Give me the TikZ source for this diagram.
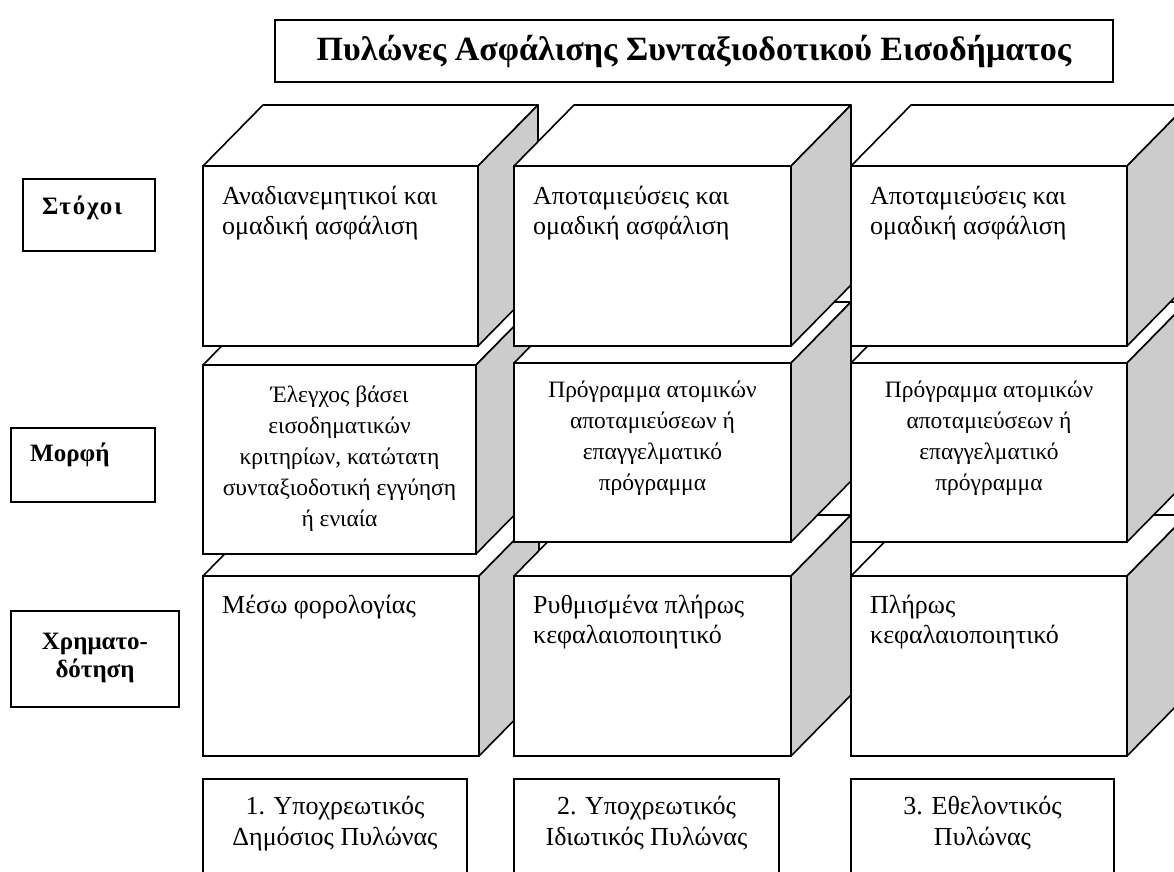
\documentclass[tikz,border=0pt]{standalone}
\usepackage{fontspec}
\setmainfont{Liberation Serif}
\usetikzlibrary{positioning}
\tikzset{
  face/.style = {draw, line width=1.6pt, fill=white, inner sep=0pt, outer sep=0pt, anchor=north west},
  lid/.style = {draw, line width=1.6pt, fill=white, line join=round},
  flank/.style = {draw, line width=1.6pt, fill=black!20, line join=round},
  frame/.style = {draw, line width=1.3pt, inner sep=0pt, outer sep=0pt, anchor=north west},
  lefttxt/.style = {anchor=north west, align=left, inner sep=0pt, font=\fontsize{26}{30}\selectfont},
  midtxt/.style = {anchor=north, align=center, inner sep=0pt, font=\fontsize{23.5}{31}\selectfont},
  tagtxt/.style = {inner sep=0pt, align=center, font=\fontsize{25}{28}\selectfont\bfseries},
}
% one pillar block: name, x, y, width, height of its front face
\newcommand{\pylon}[5]{%
  \draw[lid] (#2,#3) -- ++(60,-61) -- ++(#4,0) -- ++(-60,61) -- cycle;
  \draw[flank] (#2+#4,#3) -- ++(60,-61) -- ++(0,#5) -- ++(-60,61) -- cycle;
  \node (#1) [face, minimum width=#4, minimum height=#5] at (#2,#3) {};
}
\begin{document}
\begin{tikzpicture}[x=1pt, y=-1pt]
\useasboundingbox (0,0) rectangle (1174,871);
\clip (0,0) rectangle (1174,871);
% title
\node (title) [frame, minimum width=838, minimum height=62] at (275,20) {};
\node (titletxt) [font=\fontsize{34}{38}\selectfont\bfseries] at (title.center) {Πυλώνες Ασφάλισης Συνταξιοδοτικού Εισοδήματος};
% row labels
\node (goals) [frame, minimum width=132, minimum height=72] at (23,179) {};
\node (goalstxt) [tagtxt, anchor=north west] at ([shift={(19,17)}]goals.north west) {\addfontfeature{LetterSpace=8}Στόχοι};
\node (form) [frame, minimum width=144, minimum height=74] at (11,428) {};
\node (formtxt) [tagtxt, anchor=north west] at ([shift={(19,15)}]form.north west) {Μορφή};
\node (fund) [frame, minimum width=168, minimum height=96] at (11,611) {};
\node (fundtxt) [tagtxt, anchor=north] at ([shift={(0,22)}]fund.north) {Χρηματο-\\δότηση};
% blocks, back rows first
\pylon{f1}{203}{576}{276}{180}
\pylon{f2}{514}{576}{277}{180}
\pylon{f3}{851}{576}{276}{180}
\pylon{m1}{203}{365}{273}{189}
\pylon{m2}{514}{363}{277}{179}
\pylon{m3}{851}{363}{276}{179}
\pylon{g1}{203}{166}{275}{180}
\pylon{g2}{514}{166}{277}{180}
\pylon{g3}{851}{166}{276}{180}
% block texts
\node (tg1) [lefttxt] at ([shift={(19,20)}]g1.north west) {Αναδιανεμητικοί και\\ομαδική ασφάλιση};
\node (tg2) [lefttxt] at ([shift={(19,20)}]g2.north west) {Αποταμιεύσεις και\\ομαδική ασφάλιση};
\node (tg3) [lefttxt] at ([shift={(19,20)}]g3.north west) {Αποταμιεύσεις και\\ομαδική ασφάλιση};
\node (tm1) [midtxt] at ([shift={(0,21)}]m1.north) {Έλεγχος βάσει\\εισοδηματικών\\κριτηρίων, κατώτατη\\συνταξιοδοτική εγγύηση\\ή ενιαία};
\node (tm2) [midtxt] at ([shift={(0,18)}]m2.north) {Πρόγραμμα ατομικών\\αποταμιεύσεων ή\\επαγγελματικό\\πρόγραμμα};
\node (tm3) [midtxt] at ([shift={(0,18)}]m3.north) {Πρόγραμμα ατομικών\\αποταμιεύσεων ή\\επαγγελματικό\\πρόγραμμα};
\node (tf1) [lefttxt] at ([shift={(19,19)}]f1.north west) {Μέσω φορολογίας};
\node (tf2) [lefttxt] at ([shift={(19,19)}]f2.north west) {Ρυθμισμένα πλήρως\\κεφαλαιοποιητικό};
\node (tf3) [lefttxt] at ([shift={(19,19)}]f3.north west) {Πλήρως\\κεφαλαιοποιητικό};
% pillars
\node (p1) [frame, minimum width=264, minimum height=120] at (203,779) {};
\node (p2) [frame, minimum width=265, minimum height=120] at (514,779) {};
\node (p3) [frame, minimum width=263, minimum height=120] at (851,779) {};
\node (tp1) [midtxt, font=\fontsize{26}{31}\selectfont] at ([shift={(0,17)}]p1.north) {1. Υποχρεωτικός\\Δημόσιος Πυλώνας};
\node (tp2) [midtxt, font=\fontsize{26}{31}\selectfont] at ([shift={(0,17)}]p2.north) {2. Υποχρεωτικός\\Ιδιωτικός Πυλώνας};
\node (tp3) [midtxt, font=\fontsize{26}{31}\selectfont] at ([shift={(0,17)}]p3.north) {3. Εθελοντικός\\Πυλώνας};
\end{tikzpicture}
\end{document}
